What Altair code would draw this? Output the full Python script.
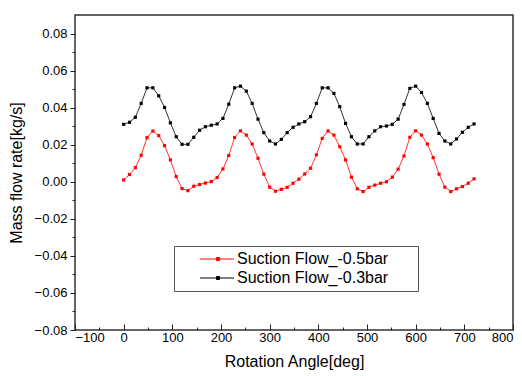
import altair as alt
import pandas as pd

angles = list(range(0, 721, 12))

flow_05 = [0.0010, 0.0039, 0.0076, 0.0143, 0.0238, 0.0274, 0.0249, 0.0195, 0.0118, 0.0028,
           -0.0037, -0.0048, -0.0024, -0.0015, -0.0007, 0.0001, 0.0023, 0.0069, 0.0142, 0.0239,
           0.0275, 0.0252, 0.0204, 0.0127, 0.0041, -0.0029, -0.0051, -0.0041, -0.0030, -0.0008,
           0.0014, 0.0042, 0.0073, 0.0145, 0.0234, 0.0274, 0.0252, 0.0189, 0.0118, 0.0025,
           -0.0038, -0.0053, -0.0030, -0.0018, -0.0008, 0.0000, 0.0025, 0.0068, 0.0139, 0.0240,
           0.0275, 0.0252, 0.0204, 0.0130, 0.0041, -0.0029, -0.0053, -0.0038, -0.0026, -0.0008,
           0.0016]

flow_03 = [0.0310, 0.0321, 0.0348, 0.0423, 0.0507, 0.0507, 0.0464, 0.0401, 0.0318, 0.0243,
           0.0202, 0.0202, 0.0240, 0.0278, 0.0297, 0.0305, 0.0312, 0.0342, 0.0419, 0.0507,
           0.0516, 0.0489, 0.0423, 0.0338, 0.0265, 0.0220, 0.0204, 0.0229, 0.0265, 0.0294,
           0.0312, 0.0324, 0.0351, 0.0423, 0.0507, 0.0507, 0.0477, 0.0405, 0.0315, 0.0243,
           0.0204, 0.0204, 0.0243, 0.0275, 0.0297, 0.0301, 0.0310, 0.0338, 0.0417, 0.0504,
           0.0516, 0.0482, 0.0423, 0.0342, 0.0261, 0.0220, 0.0204, 0.0231, 0.0267, 0.0294,
           0.0312]

series_names = ["Suction Flow_-0.5bar", "Suction Flow_-0.3bar"]
series_colors = ["#FF0000", "#000000"]

x_major = list(range(-100, 801, 100))
x_ticks = list(range(-100, 801, 50))
y_ticks = [round(v * 0.01, 2) for v in range(-8, 9)]

rows = []
for a, v in zip(angles, flow_05):
    rows.append({"angle": a, "flow": v, "series": series_names[0]})
for a, v in zip(angles, flow_03):
    rows.append({"angle": a, "flow": v, "series": series_names[1]})
df = pd.DataFrame(rows)

FONT = "Liberation Sans"
W, H = 438, 315

yscale = alt.Scale(domain=[-0.08, 0.09], nice=False, zero=False)
xscale = alt.Scale(domain=[-100, 800], nice=False, zero=False)
cscale = alt.Scale(domain=series_names, range=series_colors)

SYM = "M-1,0L10.33,0M4.5,-0.5L5.5,-0.5L5.5,0.5L4.5,0.5Z"


def y_axis():
    return alt.Axis(
        values=y_ticks,
        labelExpr="abs(round(datum.value*100)) % 2 == 0 ? format(datum.value, '.2f') : ''",
        labelOverlap=False,
        ticks=True,
        tickSize={"condition": {"test": "abs(round(datum.value*100)) % 2 == 1", "value": 3}, "value": 5},
        tickColor="#222222",
        tickWidth=1,
        domain=False,
        grid=False,
        labelFontSize=13,
        labelPadding=3,
        labelColor="#000000",
        title="Mass flow rate[kg/s]",
        titleFontSize=16,
        titleFontWeight="normal",
        titlePadding=10,
        titleColor="#000000",
    )


line = alt.Chart(df).mark_line(strokeWidth=1, strokeOpacity=0.8).encode(
    x=alt.X("angle:Q", scale=xscale, axis=alt.Axis(
        orient="bottom", values=x_major, ticks=False, domain=False, grid=False,
        labelOverlap=False,
        labelFontSize=13, labelPadding=1, labelColor="#000000", format="d",
        title="Rotation Angle[deg]", titleFontSize=16, titleFontWeight="normal",
        titlePadding=9, titleColor="#000000")),
    y=alt.Y("flow:Q", scale=yscale, axis=y_axis()),
    color=alt.Color("series:N", scale=cscale,
                    legend=alt.Legend(
                        title=None, orient="none", legendX=99, legendY=231,
                        padding=5, rowPadding=3,
                        fillColor="#FFFFFF", strokeColor="#555555",
                        symbolType=SYM,
                        symbolSize=36, symbolStrokeWidth=1, symbolOffset=16,
                        labelOffset=26, labelFontSize=16, labelColor="#000000",
                        labelLimit=400,
                        labelExpr="datum.label + '\u2800\u2800'",
                    )),
)

pts = alt.Chart(df).mark_point(shape="square", filled=True, size=10, opacity=1).encode(
    x=alt.X("angle:Q", scale=xscale, axis=alt.Axis(
        orient="top", offset=-H, values=x_ticks, labels=False, domain=False, grid=False,
        title=None, tickColor="#222222", tickWidth=1,
        tickSize={"condition": {"test": "datum.value % 100 != 0", "value": 3}, "value": 6})),
    y=alt.Y("flow:Q", scale=yscale, axis=y_axis()),
    color=alt.Color("series:N", scale=cscale, legend=None),
)

chart = alt.layer(line, pts).resolve_axis(
    x="independent"
).properties(
    width=W, height=H,
    autosize=alt.AutoSizeParams(type="none"),
    padding={"left": 75, "top": 15, "right": 9, "bottom": 46},
    background="#FFFFFF",
).configure(
    font=FONT,
).configure_view(
    stroke="#333333", strokeWidth=1.5,
)

chart.save("out.html", embed_options={"renderer": "svg", "actions": False})
